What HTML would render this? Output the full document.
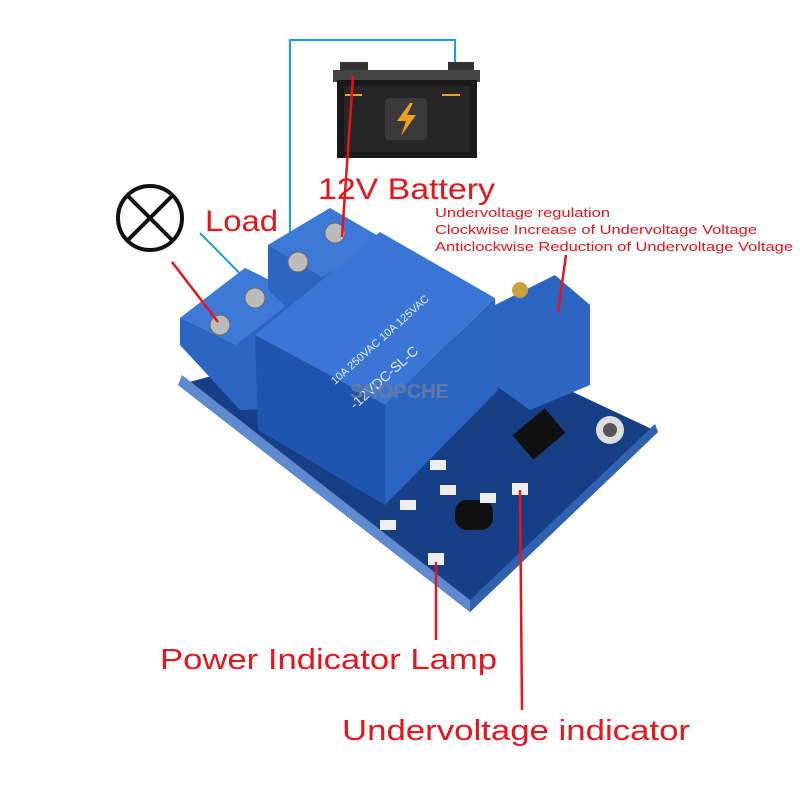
<!DOCTYPE html>
<html><head><style>
html,body{margin:0;padding:0;background:#fff;}
svg{display:block}
text{font-family:"Liberation Sans",sans-serif;fill:#e8141c}
</style></head><body>
<svg width="800" height="800" viewBox="0 0 800 800">
<rect width="800" height="800" fill="#fff"/>
<polyline points="290,255 290,40 455,40 455,68" fill="none" stroke="#1aa0d8" stroke-width="2"/>
<line x1="200" y1="233" x2="258" y2="292" stroke="#1aa0d8" stroke-width="2"/>
<rect x="340" y="62" width="28" height="12" fill="#333"/>
<rect x="448" y="62" width="26" height="12" fill="#333"/>
<rect x="333" y="70" width="147" height="12" fill="#444"/>
<rect x="337" y="80" width="140" height="78" fill="#1a1a1a"/>
<rect x="344" y="86" width="126" height="66" fill="#262626"/>
<line x1="345" y1="95" x2="362" y2="95" stroke="#e8a030" stroke-width="2"/>
<line x1="442" y1="95" x2="460" y2="95" stroke="#e8a030" stroke-width="2"/>
<rect x="385" y="98" width="42" height="42" rx="4" fill="#3a3a3a"/>
<polygon points="410,103 397,121 406,121 401,136 416,115 407,115 413,103" fill="#f0a020"/>
<circle cx="150" cy="218" r="32" fill="none" stroke="#111" stroke-width="4"/>
<line x1="128" y1="196" x2="172" y2="240" stroke="#111" stroke-width="4"/>
<line x1="172" y1="196" x2="128" y2="240" stroke="#111" stroke-width="4"/>
<polygon points="178,385 470,612 658,432 420,320" fill="#173f86"/>
<polygon points="178,385 470,612 470,600 182,375" fill="#5f8ad0"/>
<polygon points="470,612 658,432 655,424 470,600" fill="#3060b0"/>
<circle cx="610" cy="430" r="14" fill="#ddd"/><circle cx="610" cy="430" r="7" fill="#555"/>
<rect x="518" y="418" width="42" height="32" fill="#111" transform="rotate(-40 539 434)"/>
<rect x="455" y="500" width="38" height="30" rx="12" fill="#111"/>
<g fill="#eee"><rect x="430" y="460" width="16" height="10"/><rect x="440" y="485" width="16" height="10"/><rect x="400" y="500" width="16" height="10"/><rect x="380" y="520" width="16" height="10"/><rect x="428" y="553" width="16" height="12"/><rect x="512" y="483" width="16" height="12"/><rect x="480" y="493" width="16" height="10"/></g>
<polygon points="180,318 245,268 300,295 300,408 240,410 180,345" fill="#2d66c2"/>
<polygon points="180,318 245,268 300,295 236,345" fill="#3d7ad8"/>
<polygon points="268,245 330,208 385,240 385,310 300,320 268,290" fill="#2d66c2"/>
<polygon points="268,245 330,208 385,240 322,277" fill="#3d7ad8"/>
<g fill="#bbb" stroke="#666"><circle cx="220" cy="325" r="10"/><circle cx="255" cy="298" r="10"/><circle cx="298" cy="262" r="10"/><circle cx="335" cy="233" r="10"/></g>
<polygon points="255,335 380,232 495,298 385,405" fill="#3a76d6"/>
<polygon points="255,335 385,405 385,505 258,430" fill="#1f55b0"/>
<polygon points="385,405 495,298 498,390 385,505" fill="#2b65c4"/>
<text x="0" y="0" font-size="11" style="fill:#e6ecf8" transform="translate(335,385) rotate(-42)">10A 250VAC 10A 125VAC</text>
<text x="0" y="0" font-size="14" style="fill:#e6ecf8" transform="translate(355,410) rotate(-42)">-12VDC-SL-C</text>
<polygon points="495,305 555,275 590,305 590,385 530,410 495,385" fill="#2d66c2"/>
<circle cx="520" cy="290" r="8" fill="#c9a040"/>
<text x="350" y="398" font-size="20" font-weight="bold" style="fill:#6c7f9a;opacity:.8">SHOPCHE</text>
<g stroke="#e8141c" stroke-width="2.5" fill="none">
<line x1="353" y1="76" x2="342" y2="237"/>
<line x1="172" y1="262" x2="218" y2="322"/>
<line x1="566" y1="255" x2="558" y2="312"/>
<line x1="436" y1="562" x2="436" y2="640"/>
<line x1="520" y1="490" x2="522" y2="710"/>
</g>
<text x="318" y="199" font-size="30" textLength="177" lengthAdjust="spacingAndGlyphs">12V Battery</text>
<text x="205" y="231" font-size="30" textLength="73" lengthAdjust="spacingAndGlyphs">Load</text>
<text x="435" y="217" font-size="13" textLength="175" lengthAdjust="spacingAndGlyphs">Undervoltage regulation</text>
<text x="435" y="234" font-size="13" textLength="322" lengthAdjust="spacingAndGlyphs">Clockwise Increase of Undervoltage Voltage</text>
<text x="435" y="251" font-size="13" textLength="358" lengthAdjust="spacingAndGlyphs">Anticlockwise Reduction of Undervoltage Voltage</text>
<text x="160" y="669" font-size="29" textLength="337" lengthAdjust="spacingAndGlyphs">Power Indicator Lamp</text>
<text x="342" y="740" font-size="29" textLength="348" lengthAdjust="spacingAndGlyphs">Undervoltage indicator</text>
</svg>
</body></html>
